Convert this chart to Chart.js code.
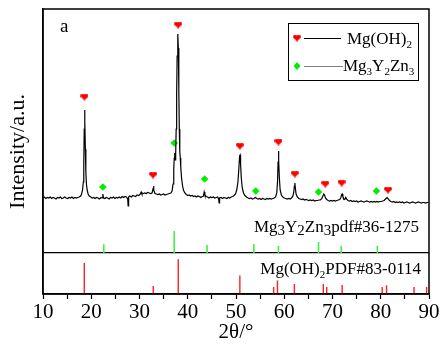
<!DOCTYPE html>
<html>
<head>
<meta charset="utf-8">
<script src="https://cdn.jsdelivr.net/npm/chart.js@4/dist/chart.umd.min.js"></script>
<style>
  body { margin: 0; background: #fff; }
  canvas { display: block; }
</style>
</head>
<body>
<canvas id="xrdChart" width="441" height="345"></canvas>
<script>
// measured XRD pattern, [2theta, intensity a.u.]
const patternPoints = [
  [10.0,96],[10.3,97],[10.6,95.5],[10.9,96.5],[11.2,96],[11.5,97],[11.8,95.5],[12.1,96.5],[12.4,96],[12.7,95],
  [13.0,96.5],[13.3,96],[13.6,97],[13.9,95.5],[14.2,96],[14.5,97],[14.8,96],[15.1,95.5],[15.4,96.5],[15.7,96],
  [16.0,97],[16.3,95.5],[16.6,96.5],[16.9,96],[17.2,96.5],[17.5,97],[17.8,98],[18.0,100],[18.2,104],[18.35,112],
  [18.45,130],[18.55,165],[18.62,184],[18.7,172],[18.78,145],[18.88,122],[19.0,110],[19.15,104],[19.35,100],[19.6,98],
  [19.9,97],[20.2,96],[20.5,96.5],[20.8,95.5],[21.1,96.5],[21.4,96],[21.7,95],[22.0,96.5],[22.25,96],[22.4,100],
  [22.55,96],[22.8,95.5],[23.1,96.5],[23.4,96],[23.7,95],[24.0,96.5],[24.3,96],[24.6,97],[24.9,95.5],[25.2,96.5],
  [25.5,96],[25.8,97],[26.1,96],[26.4,97.5],[26.7,96.5],[27.0,97.5],[27.3,97],[27.55,95],[27.65,88],[27.75,97],
  [28.0,98],[28.3,97],[28.6,98.5],[28.9,98],[29.2,97.5],[29.5,99],[29.8,98.5],[30.1,99.5],[30.35,102],[30.5,100],
  [30.8,100.5],[31.1,101],[31.4,100.5],[31.7,101.5],[32.0,101],[32.3,100.5],[32.6,101],[32.8,105],[32.9,108],[33.0,104],
  [33.2,100.5],[33.5,100],[33.8,99.5],[34.1,100],[34.4,99],[34.7,99.5],[35.0,100],[35.3,99],[35.6,99.5],[35.9,100],
  [36.2,100.5],[36.5,101],[36.75,103],[36.95,110],[37.1,125],[37.2,136],[37.3,141],[37.4,134],[37.5,140],[37.6,165],
  [37.7,200],[37.8,238],[37.9,257],[37.97,260],[38.05,246],[38.15,205],[38.25,165],[38.35,142],[38.45,136],[38.55,127],
  [38.7,117],[38.9,109],[39.1,104],[39.4,101],[39.7,99.5],[40.0,98.5],[40.3,99],[40.6,98],[40.9,98.5],[41.2,97.5],
  [41.5,98],[41.8,97],[42.1,98],[42.4,97.5],[42.7,96.5],[43.0,97.5],[43.25,98],[43.4,102],[43.55,99],[43.8,97.5],
  [44.1,97],[44.4,96],[44.7,97],[45.0,96.5],[45.3,97],[45.6,96],[45.9,96.5],[46.2,97],[46.4,95],[46.5,91],
  [46.6,96],[46.9,96.5],[47.2,95.5],[47.5,96.5],[47.8,96],[48.1,95.5],[48.4,96.5],[48.7,96],[49.0,97],[49.3,97.5],
  [49.6,98.5],[49.9,100],[50.15,104],[50.4,112],[50.6,126],[50.75,138],[50.85,139],[50.95,130],[51.1,116],[51.3,106],
  [51.55,101],[51.85,98.5],[52.2,97],[52.5,96],[52.8,95.5],[53.1,96],[53.4,95],[53.7,95.5],[54.0,96.5],[54.3,95.5],
  [54.6,95],[54.9,95.5],[55.2,94.5],[55.5,95.5],[55.8,95],[56.1,94.5],[56.4,95.5],[56.7,95],[57.0,95.5],[57.3,95],
  [57.6,95.5],[57.9,96],[58.2,97],[58.45,101],[58.6,112],[58.72,132],[58.8,143],[58.88,133],[59.0,115],[59.15,104],
  [59.4,99],[59.7,97],[60.0,96],[60.3,95.5],[60.6,95],[60.9,95.5],[61.2,95],[61.5,96],[61.75,97.5],[61.95,101],
  [62.1,108],[62.2,111],[62.3,106],[62.45,100],[62.7,97],[63.0,95.5],[63.3,95],[63.6,94.5],[63.9,95],[64.2,94],
  [64.5,94.5],[64.8,94],[65.1,93.5],[65.4,94],[65.7,93.5],[66.0,94],[66.3,93],[66.6,93.5],[66.9,93.5],[67.2,94],
  [67.5,94],[67.8,95.5],[68.0,98],[68.2,100],[68.35,99],[68.55,96],[68.8,94.5],[69.1,93.5],[69.4,93],[69.7,93.5],
  [70.0,93],[70.3,93.5],[70.6,93],[70.9,93.5],[71.2,94],[71.5,94.5],[71.7,96],[71.9,99.5],[72.0,100],[72.15,97.5],
  [72.35,95],[72.55,94.5],[72.75,96.5],[72.9,95],[73.2,93.5],[73.5,93],[73.8,93.5],[74.1,92.5],[74.4,93],[74.7,92.5],
  [75.0,93],[75.3,92],[75.6,92.5],[75.9,93],[76.2,92.5],[76.5,92],[76.8,92.5],[77.1,93],[77.4,92.5],[77.7,92],
  [78.0,92.5],[78.3,92],[78.6,92.5],[78.9,92],[79.2,92.5],[79.5,92],[79.8,92.5],[80.1,92.5],[80.4,93],[80.7,93.5],
  [81.0,95],[81.2,96],[81.35,96.5],[81.55,95],[81.8,93.5],[82.1,92.5],[82.4,92],[82.7,92.5],[83.0,91.5],[83.3,92],
  [83.6,91.5],[83.9,92],[84.2,91.5],[84.5,92],[84.8,91],[85.1,91.5],[85.4,92],[85.7,91.5],[86.0,91],[86.3,91.5],
  [86.6,92],[86.9,91.5],[87.2,91],[87.5,91.5],[87.8,92],[88.1,91.5],[88.4,91],[88.7,91.5],[89.0,91.5],[89.3,91],
  [89.6,91.5],[89.9,91.5]
];

// phase markers above the peaks
const heartTheta = [18.6, 32.8, 38.0, 50.8, 58.8, 62.2, 68.5, 71.9, 81.5];
const heartLevel = [197, 119, 269, 148, 152, 120, 110, 111, 104];
const diamondTheta = [22.4, 37.2, 43.5, 54.1, 67.1, 79.1];
const diamondLevel = [107, 151, 115, 103, 102, 103];

// reference cards (relative intensity)
const mgYZnTheta = [22.6, 37.2, 44.0, 53.7, 58.8, 67.1, 71.8, 79.3];
const mgYZnRel = [40, 100, 36, 41, 32, 50, 32, 32];
const mgOHTheta = [18.56, 32.85, 38.03, 50.8, 57.8, 58.6, 62.1, 68.1, 68.8, 72.0, 80.3, 81.2, 86.9, 89.5];
const mgOHRel = [89, 23, 100, 53, 20, 39, 29, 29, 20, 26, 20, 25, 20, 20];

const xTicks = [10, 20, 30, 40, 50, 60, 70, 80, 90];

const SERIF = '"Liberation Serif", "Times New Roman", serif';
const cardSplit = 41;     // boundary between the two card panels
const yTop = 285;

function makeHeart(color) {
  const c = document.createElement('canvas');
  c.width = 8; c.height = 7;
  const g = c.getContext('2d');
  g.fillStyle = color;
  g.beginPath(); g.arc(2.2, 2.2, 2.1, 0, Math.PI * 2); g.fill();
  g.beginPath(); g.arc(5.8, 2.2, 2.1, 0, Math.PI * 2); g.fill();
  g.beginPath(); g.moveTo(0.2, 2.9); g.lineTo(7.8, 2.9); g.lineTo(4, 7); g.closePath(); g.fill();
  return c;
}
const heartImg = makeHeart('#ff0000');

function sticks(theta, rel, base, scale) {
  const pts = [];
  theta.forEach((t, i) => {
    pts.push({x: t, y: base}, {x: t, y: base + rel[i] * scale}, {x: t, y: null});
  });
  return pts;
}

// draws text made of [string, size, dy] parts, right aligned at x if align === 'right'
function drawParts(ctx, x, y, parts, align) {
  let w = 0;
  parts.forEach(p => { ctx.font = p[1] + 'px ' + SERIF; w += ctx.measureText(p[0]).width; });
  let cx = align === 'right' ? x - w : x;
  ctx.fillStyle = '#000';
  ctx.textBaseline = 'alphabetic';
  ctx.textAlign = 'left';
  parts.forEach(p => {
    ctx.font = p[1] + 'px ' + SERIF;
    ctx.fillText(p[0], cx, y + p[2]);
    cx += ctx.measureText(p[0]).width;
  });
}

const decorations = {
  id: 'decorations',
  afterDraw(chart) {
    const ctx = chart.ctx;
    const a = chart.chartArea;
    ctx.save();
    ctx.strokeStyle = '#000';
    ctx.lineWidth = 1.5;
    ctx.strokeRect(a.left, a.top, a.right - a.left, a.bottom - a.top);

    // panel letter
    ctx.font = '19px ' + SERIF;
    ctx.fillStyle = '#000';
    ctx.fillText('a', 60, 32);

    // card labels
    drawParts(ctx, 419, 232, [['Mg', 17, 0], ['3', 15, 3], ['Y', 17, 0], ['2', 15, 3], ['Zn', 17, 0], ['3', 15, 3], ['pdf#36-1275', 17, 0]], 'right');
    drawParts(ctx, 421, 274, [['Mg(OH)', 17, 0], ['2', 11, 4], ['PDF#83-0114', 17, 0]], 'right');

    // legend box
    ctx.lineWidth = 1;
    ctx.strokeStyle = '#000';
    ctx.strokeRect(288.5, 23.5, 130, 57);
    ctx.drawImage(heartImg, 293, 34.5);
    ctx.beginPath(); ctx.moveTo(304, 38.5); ctx.lineTo(341, 38.5); ctx.stroke();
    drawParts(ctx, 347, 44, [['Mg(OH)', 17, 0], ['2', 11, 4]]);
    ctx.fillStyle = '#00ee00';
    ctx.beginPath(); ctx.moveTo(297, 62); ctx.lineTo(300.5, 66); ctx.lineTo(297, 70); ctx.lineTo(293.5, 66); ctx.closePath(); ctx.fill();
    ctx.strokeStyle = '#808080';
    ctx.beginPath(); ctx.moveTo(304, 66.5); ctx.lineTo(343, 66.5); ctx.stroke();
    drawParts(ctx, 343, 71, [['Mg', 17, 0], ['3', 11, 4], ['Y', 17, 0], ['2', 11, 4], ['Zn', 17, 0], ['3', 11, 4]]);
    ctx.restore();
  }
};

new Chart(document.getElementById('xrdChart'), {
  type: 'line',
  data: {
    datasets: [
      {
        data: patternPoints.map(p => ({x: p[0], y: p[1]})),
        borderColor: '#000',
        borderWidth: 1.2,
        pointRadius: 0,
        tension: 0
      },
      {
        data: sticks(mgYZnTheta, mgYZnRel, cardSplit, 0.22),
        borderColor: '#44ee44',
        borderWidth: 1.6,
        pointRadius: 0,
        spanGaps: false
      },
      {
        data: sticks(mgOHTheta, mgOHRel, 0, 0.347),
        borderColor: '#ff2020',
        borderWidth: 1.4,
        pointRadius: 0,
        spanGaps: false
      },
      {
        data: heartTheta.map((t, i) => ({x: t, y: heartLevel[i]})),
        showLine: false,
        pointStyle: heartImg,
        pointRadius: 4,
        clip: false
      },
      {
        data: diamondTheta.map((t, i) => ({x: t, y: diamondLevel[i]})),
        showLine: false,
        pointStyle: 'rectRot',
        pointRadius: 3.8,
        pointBackgroundColor: '#00ee00',
        pointBorderColor: '#00ee00',
        pointBorderWidth: 0,
        clip: false
      }
    ]
  },
  options: {
    responsive: false,
    animation: false,
    devicePixelRatio: 1,
    events: [],
    layout: { padding: { top: 9, right: 12, left: 0, bottom: 0 } },
    plugins: {
      legend: { display: false },
      tooltip: { enabled: false }
    },
    scales: {
      x: {
        type: 'linear',
        min: 10,
        max: 90,
        ticks: {
          stepSize: 5,
          autoSkip: false,
          maxRotation: 0,
          padding: 1,
          color: '#000',
          font: { family: SERIF, size: 21 },
          callback: v => xTicks.includes(v) ? String(v) : ''
        },
        grid: { drawOnChartArea: false, tickLength: 5, color: '#000', tickWidth: 1.2 },
        border: { color: '#000', width: 1.5 },
        title: { display: true, text: '2θ/°', color: '#000', font: { family: SERIF, size: 21 }, padding: 0 },
        afterFit: s => { s.height = 51; }
      },
      y: {
        type: 'linear',
        min: 0,
        max: yTop,
        afterBuildTicks: s => { s.ticks = [{value: 0}, {value: cardSplit}, {value: yTop}]; },
        ticks: { display: false },
        grid: {
          drawTicks: false,
          lineWidth: 1.3,
          color: c => (c.tick && c.tick.value === cardSplit) ? '#000' : 'rgba(0,0,0,0)'
        },
        border: { color: '#000', width: 1.5 },
        title: { display: true, text: 'Intensity/a.u.', color: '#000', font: { family: SERIF, size: 22 }, padding: { top: 5 } },
        afterFit: s => { s.width = 43; }
      }
    }
  },
  plugins: [decorations]
});
</script>
</body>
</html>
